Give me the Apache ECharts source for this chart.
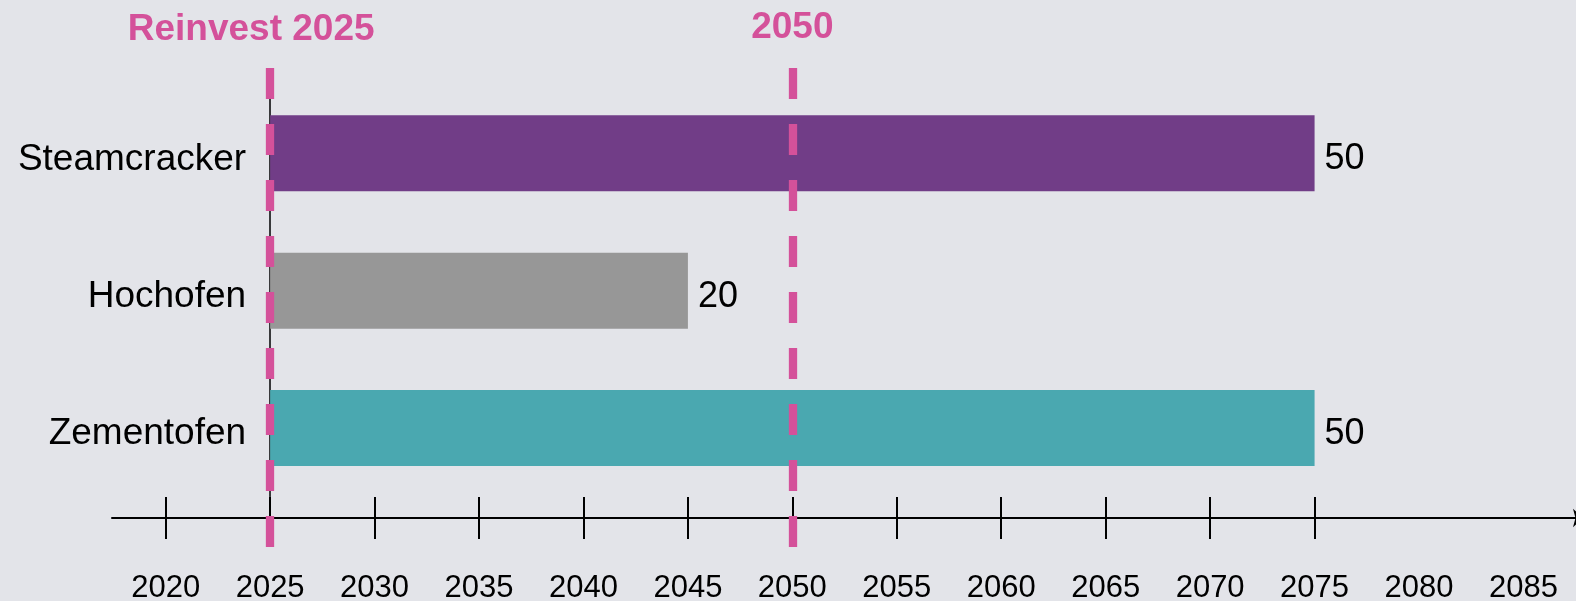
<!DOCTYPE html>
<html>
<head>
<meta charset="utf-8">
<script src="https://cdn.jsdelivr.net/npm/echarts@6/dist/echarts.min.js"></script>
<style>
html,body{margin:0;padding:0;background:#e3e4e9;}
#chart{width:1576px;height:601px;}
</style>
</head>
<body>
<div id="chart"></div>
<script>
// ---- data ----
const categories = ['Steamcracker', 'Hochofen', 'Zementofen'];
const startYears = [2025, 2025, 2025];
const lifetimes = [50, 20, 50];
const barColors = ['#713d87', '#979797', '#4aa8b0'];
const tickYears = [2020, 2025, 2030, 2035, 2040, 2045, 2050, 2055, 2060, 2065, 2070, 2075];
const labelYears = [2020, 2025, 2030, 2035, 2040, 2045, 2050, 2055, 2060, 2065, 2070, 2075, 2080, 2085];
const refYears = [2025, 2050];
const refNames = ['Reinvest 2025', '2050'];

// ---- layout ----
const FONT = '"Liberation Sans", Arial, sans-serif';
const PINK = '#d4519a';
const xMin = 2017.43, xMax = 2087.85;
const axisOffset = 21.4;

const chart = echarts.init(document.getElementById('chart'), null, {renderer: 'canvas'});

const baseX = {
  type: 'value', min: xMin, max: xMax, gridIndex: 0, position: 'bottom', offset: axisOffset,
  splitLine: {show: false}
};

const option = {
  backgroundColor: '#e3e4e9',
  animation: false,
  textStyle: {fontFamily: FONT},
  grid: [
    {left: 112, right: -7, top: 84.65, bottom: 104.4, containLabel: false, outerBoundsMode: 'none'},
    {left: 112, right: -7, top: 68, bottom: 54, containLabel: false, outerBoundsMode: 'none'}
  ],
  xAxis: [
    Object.assign({}, baseX, {
      axisLine: {show: true, lineStyle: {color: '#000', width: 2}, symbol: ['none', 'arrow'], symbolSize: [14, 10]},
      axisTick: {show: true, inside: false, length: 21, lineStyle: {color: '#000', width: 2}, customValues: tickYears},
      axisLabel: {show: true, fontSize: 31, color: '#000', margin: 55, fontFamily: FONT, customValues: labelYears,
        formatter: v => String(Math.round(v))}
    }),
    Object.assign({}, baseX, {
      axisLine: {show: false},
      axisTick: {show: true, inside: true, length: 21, lineStyle: {color: '#000', width: 2}, customValues: tickYears},
      axisLabel: {show: false}
    }),
    {type: 'value', min: xMin, max: xMax, gridIndex: 1, show: false}
  ],
  yAxis: [
    {
      type: 'category', data: categories, inverse: true, gridIndex: 0,
      position: 'left', offset: -(2025 - xMin) * 20.89,
      axisLine: {show: true, lineStyle: {color: '#000', width: 1.5}},
      axisTick: {show: false},
      axisLabel: {fontSize: 37, color: '#000', margin: 24, fontFamily: FONT, verticalAlign: 'top', lineHeight: 12},
      splitLine: {show: false}
    },
    {type: 'value', min: 0, max: 1, gridIndex: 1, show: false}
  ],
  series: [
    {
      type: 'bar', stack: 'life', xAxisIndex: 0, yAxisIndex: 0,
      data: startYears, barWidth: 76,
      itemStyle: {color: 'rgba(0,0,0,0)'}, silent: true
    },
    {
      type: 'bar', stack: 'life', xAxisIndex: 0, yAxisIndex: 0, barWidth: 76,
      data: lifetimes.map((v, i) => ({value: v, itemStyle: {color: barColors[i]}})),
      label: {show: true, position: 'right', distance: 10, offset: [0, 6], fontSize: 36, color: '#000', fontFamily: FONT,
        formatter: p => String(p.value)}
    },
    {
      type: 'line', xAxisIndex: 2, yAxisIndex: 1, data: [], z: 10,
      markLine: {
        silent: true, symbol: ['none', 'none'], animation: false,
        lineStyle: {color: PINK, width: 8.3, type: [31, 25], opacity: 1},
        label: {show: true, position: 'end', distance: 20, fontSize: 37, fontWeight: 'bold', color: PINK,
          fontFamily: FONT, formatter: p => p.name},
        data: refYears.map((y, i) => ({
          xAxis: y, name: refNames[i],
          label: {offset: i === 0 ? [-19, 0] : [0, -1.5]}
        }))
      }
    }
  ]
};
chart.setOption(option);
</script>
</body>
</html>
